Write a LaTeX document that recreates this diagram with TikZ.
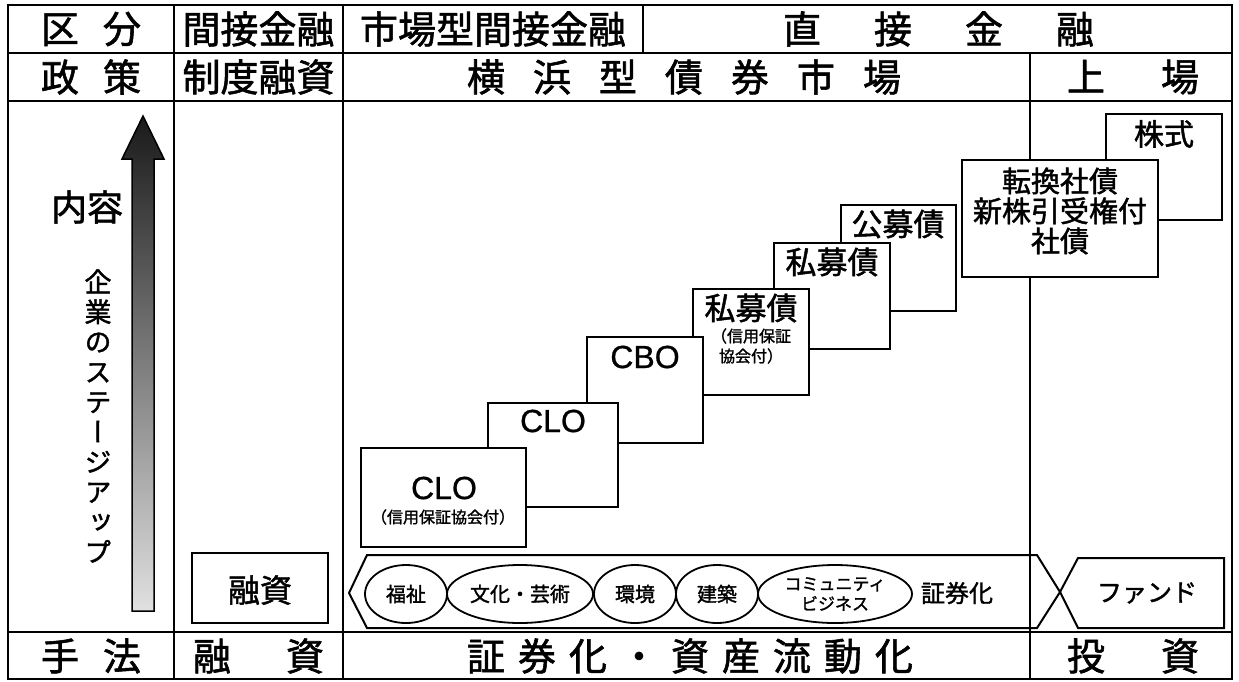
\documentclass[tikz,border=0pt]{standalone}
\usepackage{fontspec}
\setmainfont{Noto Sans CJK JP}[RawFeature={embolden=1.5}]
\newfontfamily\latf{Liberation Sans}[RawFeature={embolden=0.8}]
\newfontfamily\vjp{Noto Sans CJK JP}[RawFeature={+vert;embolden=1.5}]
\usetikzlibrary{shapes.geometric}
\begin{document}
\begin{tikzpicture}[x=1pt,y=-1pt,
  frame/.style={line width=2pt},
  boxn/.style={draw, line width=2.4pt, fill=white, inner sep=0, outer sep=0, anchor=north west},
  hdr/.style={inner sep=0, font=\fontsize{38}{40}\selectfont},
  jt/.style={inner sep=0, align=center},
  ell/.style={draw, ellipse, line width=1.8pt, inner sep=0, minimum height=58, font=\fontsize{20}{22}\selectfont, align=center},
  shp/.style={line width=2pt, line join=miter}
]
\fill[white] (0,0) rectangle (1239,681);
\useasboundingbox (0,0) rectangle (1239,681);

% grid
\draw[frame] (8,5) rectangle (1232,679);
\draw[frame] (8,53) -- (1232,53);
\draw[frame] (8,101) -- (1232,101);
\draw[frame] (8,632) -- (1232,632);
\draw[frame] (174,5) -- (174,679);
\draw[frame] (343,5) -- (343,679);
\draw[frame] (643,5) -- (643,53);
\draw[frame] (1030,53) -- (1030,679);

% headers row 1
\node[hdr] (h11) at (91,29) {区\hspace{24pt}分};
\node[hdr] (h12) at (258.5,29) {間接金融};
\node[hdr] (h13) at (493,29) {市場型間接金融};
\node[hdr] (h14) at (938.5,29) {直\hspace{53pt}接\hspace{53pt}金\hspace{53pt}融};
% row 2
\node[hdr] (h21) at (91,77) {政\hspace{24pt}策};
\node[hdr] (h22) at (258.5,77) {制度融資};
\node[hdr] (h23) at (684,77) {横\hspace{28pt}浜\hspace{28pt}型\hspace{28pt}債\hspace{28pt}券\hspace{28pt}市\hspace{28pt}場};
\node[hdr] (h24) at (1133,77) {上\hspace{56pt}場};
% bottom row
\node[hdr] (b1) at (91,656) {手\hspace{24pt}法};
\node[hdr] (b2) at (258.5,656) {融\hspace{55pt}資};
\node[hdr] (b3) at (690,656) {証\hspace{13pt}券\hspace{13pt}化\hspace{13pt}・\hspace{13pt}資\hspace{13pt}産\hspace{13pt}流\hspace{13pt}動\hspace{13pt}化};
\node[hdr] (b4) at (1133,656) {投\hspace{56pt}資};

% left column
\shade[top color=black!90, bottom color=black!12, draw=black, line width=1.5pt]
  (132,611) -- (132,159) -- (122,159) -- (143,116) -- (164,159) -- (154,159) -- (154,611) -- cycle;
\node[jt, font=\fontsize{36}{38}\selectfont] (naiyo) at (87,207) {内容};
\node[jt, font=\vjp\fontsize{27}{30}\selectfont] (stage) at (98,416) {企\\業\\の\\ス\\テ\\ー\\ジ\\ア\\ッ\\プ};

% yushi box
\node[boxn, minimum width=136, minimum height=70] (yushibox) at (192,553) {};
\node[jt, font=\fontsize{32}{34}\selectfont] (yushi) at (260,590) {融資};

% staircase boxes (back to front)
\node[boxn, minimum width=116, minimum height=106] (kabu) at (1106,114) {};
\node[jt, font=\fontsize{30}{32}\selectfont] (kabut) at (1164,134) {株式};
\node[boxn, minimum width=196, minimum height=117] (tenkan) at (962,160) {};
\node[jt, font=\fontsize{29}{30}\selectfont] (tenkant) at (1060,211) {転換社債\\新株引受権付\\社債};
\node[boxn, minimum width=115, minimum height=106] (kobo) at (841,205) {};
\node[jt, font=\fontsize{31}{33}\selectfont] (kobot) at (898,224) {公募債};
\node[boxn, minimum width=116, minimum height=106] (shibo) at (774,243) {};
\node[jt, font=\fontsize{31}{33}\selectfont] (shibot) at (832,262) {私募債};
\node[boxn, minimum width=116, minimum height=106] (shibos) at (693,289) {};
\node[jt, font=\fontsize{31}{33}\selectfont] (shibost) at (751,308) {私募債};
\node[jt, font=\fontsize{16}{20}\selectfont] (shibosub) at (751,346) {（信用保証\\協会付）};
\node[boxn, minimum width=116, minimum height=106] (cbo) at (587,337) {};
\node[jt, font=\latf\fontsize{32}{34}\selectfont] (cbot) at (645,357) {CBO};
\node[boxn, minimum width=130, minimum height=104] (clo2) at (488,403) {};
\node[jt, font=\latf\fontsize{32}{34}\selectfont] (clo2t) at (553,421) {CLO};
\node[boxn, minimum width=165, minimum height=99] (clo1) at (361,448) {};
\node[jt, font=\latf\fontsize{32}{34}\selectfont] (clo1t) at (444,488) {CLO};
\node[jt, font=\fontsize{16}{18}\selectfont] (clo1sub) at (443,517) {（信用保証協会付）};

% securitization band
\draw[shp] (349,593) -- (367,555) -- (1037,555) -- (1060,592) -- (1037,628) -- (367,628) -- cycle;
\node[ell, minimum width=82] (e1) at (406,594) {福祉};
\node[ell, minimum width=146] (e2) at (520,594) {文化・芸術};
\node[ell, minimum width=82] (e3) at (635,594) {環境};
\node[ell, minimum width=82] (e4) at (717,594) {建築};
\node[ell, minimum width=154, font=\fontsize{17}{20}\selectfont] (e5) at (835,594) {コミュニティ\\ビジネス};
\node[jt, font=\fontsize{24}{26}\selectfont] (shoken) at (957,593) {証券化};

% fund
\draw[shp] (1060,592) -- (1078,558) -- (1224,558) -- (1224,628) -- (1078,628) -- cycle;
\node[jt, font=\fontsize{25}{27}\selectfont] (fund) at (1147,593) {ファンド};
\end{tikzpicture}
\end{document}
